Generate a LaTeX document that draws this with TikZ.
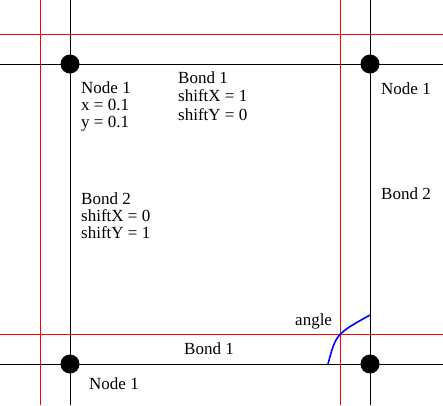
\documentclass[tikz,border=0pt]{standalone}
\usepackage{fontspec}
\setmainfont{Liberation Serif}
\begin{document}
\begin{tikzpicture}[x=1pt,y=-1pt,
  redline/.style={red,line width=1pt},
  blackline/.style={black,line width=1pt},
  dotnode/.style={circle,fill=black,inner sep=0pt,minimum size=19pt},
  lbl/.style={anchor=base west,inner sep=0pt,font=\fontsize{17}{17}\selectfont},
  arcline/.style={blue,line width=1.6pt}]
\useasboundingbox (0,0) rectangle (443,405);
\fill[white] (0,0) rectangle (443,405);
% red lines
\coordinate (rv1t) at (40,0); \coordinate (rv1b) at (40,405);
\coordinate (rv2t) at (340,0); \coordinate (rv2b) at (340,405);
\coordinate (rh1l) at (0,34); \coordinate (rh1r) at (443,34);
\coordinate (rh2l) at (0,334); \coordinate (rh2r) at (443,334);
\draw[redline] (rv1t) -- (rv1b);
\draw[redline] (rv2t) -- (rv2b);
\draw[redline] (rh1l) -- (rh1r);
\draw[redline] (rh2l) -- (rh2r);
% black lines
\coordinate (bv1t) at (70,0); \coordinate (bv1b) at (70,405);
\coordinate (bv2t) at (370,0); \coordinate (bv2b) at (370,405);
\coordinate (bh1l) at (0,64); \coordinate (bh1r) at (443,64);
\coordinate (bh2l) at (0,364); \coordinate (bh2r) at (443,364);
\draw[blackline] (bv1t) -- (bv1b);
\draw[blackline] (bv2t) -- (bv2b);
\draw[blackline] (bh1l) -- (bh1r);
\draw[blackline] (bh2l) -- (bh2r);
% dots
\node[dotnode] (n1) at (70,64) {};
\node[dotnode] (n2) at (370,64) {};
\node[dotnode] (n3) at (70,364) {};
\node[dotnode] (n4) at (370,364) {};
% angle arc
\coordinate (a0) at (328,364);
\coordinate (a1) at (370,315);
\draw[arcline] (a0) .. controls (336,334) .. (a1);
% labels
\node[lbl] (t1) at (81,93) {Node 1};
\node[lbl] (t2) at (81,110.5) {x = 0.1};
\node[lbl] (t3) at (81,127.5) {y = 0.1};
\node[lbl] (t4) at (178,83) {Bond 1};
\node[lbl] (t5) at (178,101.5) {shiftX = 1};
\node[lbl] (t6) at (178,120) {shiftY = 0};
\node[lbl] (t7) at (81,204) {Bond 2};
\node[lbl] (t8) at (81,221) {shiftX = 0};
\node[lbl] (t9) at (81,238) {shiftY = 1};
\node[lbl] (t10) at (381,94) {Node 1};
\node[lbl] (t11) at (381,199) {Bond 2};
\node[lbl] (t12) at (184,354.5) {Bond 1};
\node[lbl] (t13) at (89,389.5) {Node 1};
\node[lbl] (t14) at (295,325) {angle};
\end{tikzpicture}
\end{document}
